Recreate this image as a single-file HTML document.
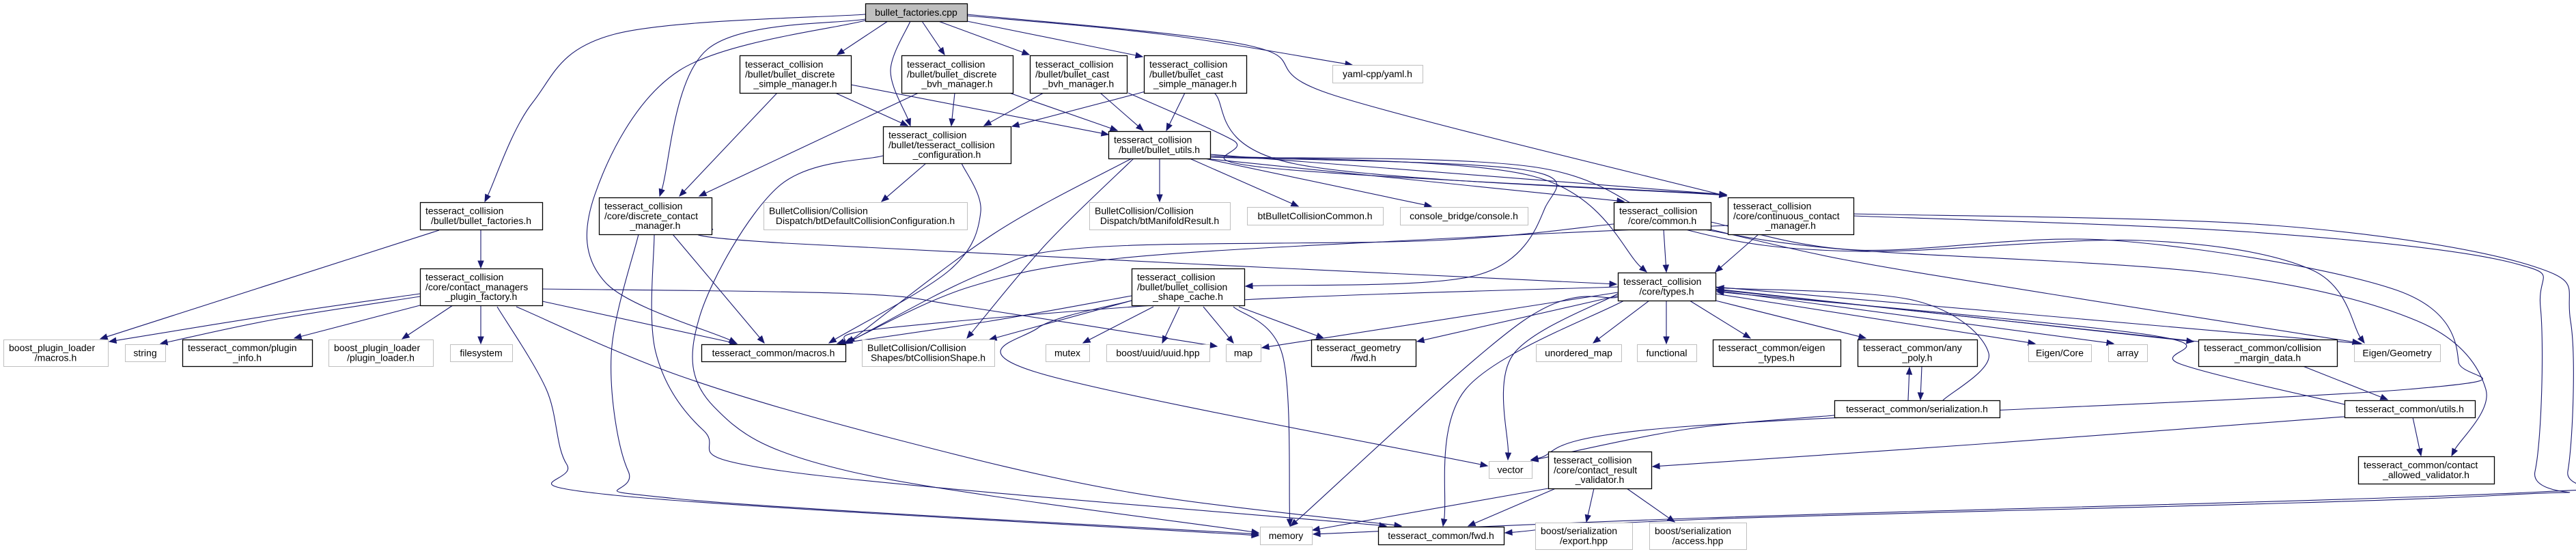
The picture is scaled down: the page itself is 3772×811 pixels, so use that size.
<!DOCTYPE html>
<html><head><meta charset="utf-8">
<style>
html,body{margin:0;padding:0;background:#fff;}
svg{display:block;}
text{font-family:"Liberation Sans","DejaVu Sans",sans-serif;font-size:14px;fill:#000;}
</style></head>
<body>
<svg id="g" xmlns="http://www.w3.org/2000/svg" width="3772" height="811" viewBox="0 0 3772 811">
<rect width="3772" height="811" fill="#fff"/>
<g id="edges"></g>
<g id="nodes"></g>
</svg>
<script>
var NS="http://www.w3.org/2000/svg";
var nodes=[
[1267,5,1416,31,["bullet_factories.cpp"],2],
[615,296,794,336,["tesseract_collision","/bullet/bullet_factories.h"],0],
[615,393,794,447,["tesseract_collision","/core/contact_managers","_plugin_factory.h"],0],
[5,497,158,536,["boost_plugin_loader","/macros.h"],1],
[183,504,242,529,["string"],1],
[267,497,457,536,["tesseract_common/plugin","_info.h"],0],
[481,497,634,536,["boost_plugin_loader","/plugin_loader.h"],1],
[659,504,750,529,["filesystem"],1],
[877,289,1042,343,["tesseract_collision","/core/discrete_contact","_manager.h"],0],
[1083,81,1246,136,["tesseract_collision","/bullet/bullet_discrete","_simple_manager.h"],0],
[1027,504,1238,529,["tesseract_common/macros.h"],0],
[1118,296,1416,336,["BulletCollision/Collision","Dispatch/btDefaultCollisionConfiguration.h"],1],
[1320,81,1483,136,["tesseract_collision","/bullet/bullet_discrete","_bvh_manager.h"],0],
[1508,81,1650,136,["tesseract_collision","/bullet/bullet_cast","_bvh_manager.h"],0],
[1675,81,1825,136,["tesseract_collision","/bullet/bullet_cast","_simple_manager.h"],0],
[1951,95,2083,121,["yaml-cpp/yaml.h"],1],
[1293,185,1480,239,["tesseract_collision","/bullet/tesseract_collision","_configuration.h"],0],
[1623,192,1772,232,["tesseract_collision","/bullet/bullet_utils.h"],0],
[1595,296,1801,336,["BulletCollision/Collision","Dispatch/btManifoldResult.h"],1],
[1826,303,2025,329,["btBulletCollisionCommon.h"],1],
[2050,303,2237,329,["console_bridge/console.h"],1],
[2363,296,2505,336,["tesseract_collision","/core/common.h"],0],
[2530,289,2714,343,["tesseract_collision","/core/continuous_contact","_manager.h"],0],
[1657,393,1822,447,["tesseract_collision","/bullet/bullet_collision","_shape_cache.h"],0],
[2369,399,2512,440,["tesseract_collision","/core/types.h"],0],
[1262,497,1456,536,["BulletCollision/Collision","Shapes/btCollisionShape.h"],1],
[1531,504,1595,529,["mutex"],1],
[1620,504,1771,529,["boost/uuid/uuid.hpp"],1],
[1795,504,1846,529,["map"],1],
[1920,497,2073,536,["tesseract_geometry","/fwd.h"],0],
[2249,504,2374,529,["unordered_map"],1],
[2397,504,2484,529,["functional"],1],
[2508,497,2695,536,["tesseract_common/eigen","_types.h"],0],
[2720,497,2895,536,["tesseract_common/any","_poly.h"],0],
[2970,504,3062,529,["Eigen/Core"],1],
[3087,504,3144,529,["array"],1],
[3219,497,3422,536,["tesseract_common/collision","_margin_data.h"],0],
[3447,504,3573,529,["Eigen/Geometry"],1],
[2686,586,2928,611,["tesseract_common/serialization.h"],0],
[3433,586,3624,611,["tesseract_common/utils.h"],0],
[3453,668,3652,708,["tesseract_common/contact","_allowed_validator.h"],0],
[2180,675,2243,700,["vector"],1],
[2267,661,2418,715,["tesseract_collision","/core/contact_result","_validator.h"],0],
[1845,771,1921,797,["memory"],1],
[2018,771,2202,797,["tesseract_common/fwd.h"],0],
[2248,765,2390,804,["boost/serialization","/export.hpp"],1],
[2415,765,2557,804,["boost/serialization","/access.hpp"],1]
];
var E=[
[[1267,21],[900,50],[780,150],[710,295]],
[[1300,31],[1226,80]],
[[1267,28],[1036,72],[966,287]],
[[1267,30],[995,103],[871,285],[887,414],[1078,502]],
[[1350,31],[1383,80]],
[[1333,31],[1304,103],[1333,184]],
[[1374,31],[1507,80]],
[[1416,31],[1673,83]],
[[1416,23],[1700,50],[1980,95]],
[[1416,21],[1830,67],[1955,140],[2528,287]],
[[1138,136],[995,287]],
[[1223,136],[1329,184]],
[[1246,124],[1623,197]],
[[1345,136],[1024,287]],
[[1398,136],[1393,184]],
[[1478,136],[1636,191]],
[[1528,136],[1441,184]],
[[1611,136],[1674,191]],
[[1652,136],[1805,205],[1850,245],[2528,285]],
[[1677,134],[1482,185]],
[[1735,136],[1708,191]],
[[1778,136],[1897,240],[2528,286]],
[[1356,239],[1291,295]],
[[1408,239],[1436,310],[1391,395],[1214,502]],
[[1293,228],[1140,273],[1024,465],[1045,595],[1244,690],[1843,780]],
[[1698,232],[1698,295]],
[[1742,232],[1901,302]],
[[1764,232],[2096,302]],
[[1764,232],[2378,295]],
[[1772,226],[2528,285]],
[[1772,228],[2245,258],[2411,398]],
[[1657,232],[1457,341],[1241,502]],
[[1660,232],[1532,357],[1416,495]],
[[1772,230],[2228,248],[2262,305],[2162,403],[1824,419]],
[[1772,230],[2250,245],[2472,337],[2720,368],[3135,352],[3385,395],[3462,502]],
[[2436,336],[2440,398]],
[[2575,343],[2512,398]],
[[2363,328],[2100,352],[1600,362],[1440,400],[1238,503]],
[[2530,330],[2100,350],[1640,378],[1420,420],[1236,503]],
[[2505,336],[2700,380],[3000,430],[3455,502]],
[[2495,336],[2700,365],[3240,400],[3540,470],[3640,570],[3590,667]],
[[2505,325],[2720,366],[3095,352],[3510,425],[3600,530],[3525,570],[2460,625],[2242,673]],
[[2714,316],[3300,340],[3680,385],[3720,450],[3712,690],[3660,725],[2500,760],[2204,780]],
[[2714,313],[3330,330],[3710,390],[3764,470],[3760,690],[3720,720],[2500,758],[1923,782]],
[[1042,335],[1150,356],[2367,416]],
[[985,343],[1119,502]],
[[935,343],[895,520],[920,690],[990,730],[1843,782]],
[[958,343],[960,515],[1030,630],[1150,690],[2030,770]],
[[643,337],[147,496]],
[[704,337],[704,392]],
[[615,430],[420,458],[160,500]],
[[615,434],[400,468],[235,503]],
[[615,447],[431,495]],
[[663,447],[589,496]],
[[704,447],[704,503]],
[[794,441],[1079,503]],
[[794,423],[1250,430],[1420,450],[1782,507]],
[[728,449],[800,570],[830,680],[900,725],[1843,784]],
[[756,449],[995,550],[1300,640],[1650,720],[2052,770]],
[[1657,433],[1450,470],[1228,503]],
[[1657,440],[1449,497]],
[[1689,449],[1586,502]],
[[1727,449],[1702,502]],
[[1762,449],[1806,502]],
[[1814,449],[1938,495]],
[[1806,449],[1878,520],[1889,770]],
[[1657,440],[1520,480],[1518,545],[2178,682]],
[[2369,420],[1800,440],[1300,480],[1226,503]],
[[2369,428],[1848,509]],
[[2369,433],[2075,500]],
[[2415,440],[2333,502]],
[[2440,440],[2440,503]],
[[2474,440],[2563,495]],
[[2512,440],[2732,495]],
[[2512,430],[2980,503]],
[[2512,425],[3095,503]],
[[2512,423],[3212,500]],
[[2512,420],[3458,503]],
[[2369,430],[2215,520],[2208,673]],
[[2369,435],[2230,470],[1890,770]],
[[2378,440],[2146,570],[2113,770]],
[[2845,586],[2912,517],[2804,440],[2514,421]],
[[3219,500],[2514,424]],
[[3433,592],[3193,533],[3152,491],[2514,427]],
[[2794,586],[2796,538]],
[[2814,537],[2812,585]],
[[2686,608],[2472,628],[2242,674]],
[[3533,611],[3545,667]],
[[3433,610],[2900,650],[2420,683]],
[[3372,536],[3496,585]],
[[2267,715],[1922,776]],
[[2278,715],[2150,770]],
[[2334,715],[2323,764]],
[[2382,715],[2452,764]]
];
var eg=document.getElementById("edges"),ng=document.getElementById("nodes");
function mk(t,a){var e=document.createElementNS(NS,t);for(var k in a)e.setAttribute(k,a[k]);return e;}
E.forEach(function(p){
 var n=p.length,tip=p[n-1];
 var dx=tip[0]-p[n-2][0],dy=tip[1]-p[n-2][1];
 var L=Math.sqrt(dx*dx+dy*dy)||1;dx/=L;dy/=L;
 var al=10,aw=4;
 var base=[tip[0]-dx*al,tip[1]-dy*al];
 var pts=p.slice();pts[n-1]=base;
 var d="M"+pts[0][0]+","+pts[0][1];
 if(n==2){d+=" L"+base[0]+","+base[1];}
 else{
  for(var i=0;i<n-1;i++){
   var p0=pts[Math.max(0,i-1)],p1=pts[i],p2=pts[i+1],p3=pts[Math.min(n-1,i+2)];
   var c1=[p1[0]+(p2[0]-p0[0])/6,p1[1]+(p2[1]-p0[1])/6];
   var c2=[p2[0]-(p3[0]-p1[0])/6,p2[1]-(p3[1]-p1[1])/6];
   d+=" C"+c1[0].toFixed(1)+","+c1[1].toFixed(1)+" "+c2[0].toFixed(1)+","+c2[1].toFixed(1)+" "+p2[0].toFixed(1)+","+p2[1].toFixed(1);
  }
 }
 eg.appendChild(mk("path",{d:d,fill:"none",stroke:"#191970","stroke-width":"1.1"}));
 var px=-dy,py=dx;
 var poly=tip[0]+","+tip[1]+" "+(base[0]+px*aw)+","+(base[1]+py*aw)+" "+(base[0]-px*aw)+","+(base[1]-py*aw);
 eg.appendChild(mk("polygon",{points:poly,fill:"#191970",stroke:"#191970","stroke-width":"1"}));
});
nodes.forEach(function(nd){
 var x1=nd[0],y1=nd[1],x2=nd[2],y2=nd[3],L=nd[4],t=nd[5];
 ng.appendChild(mk("rect",{x:x1+0.5,y:y1+0.5,width:x2-x1,height:y2-y1,fill:t==2?"#bfbfbf":"#fff",stroke:t==1?"#bfbfbf":"#000","stroke-width":t==1?"1":"1.3"}));
 var cy=(y1+y2)/2,lh=14.2,n=L.length;
 for(var i=0;i<n;i++){
  var yy=cy+(i-(n-1)/2)*lh+4.8;
  var last=(i==n-1);
  var a=last?{x:(x1+x2)/2,y:yy,"text-anchor":"middle"}:{x:x1+8,y:yy};
  var tx=mk("text",a);tx.textContent=L[i];ng.appendChild(tx);
 }
});
</script>
</body></html>
